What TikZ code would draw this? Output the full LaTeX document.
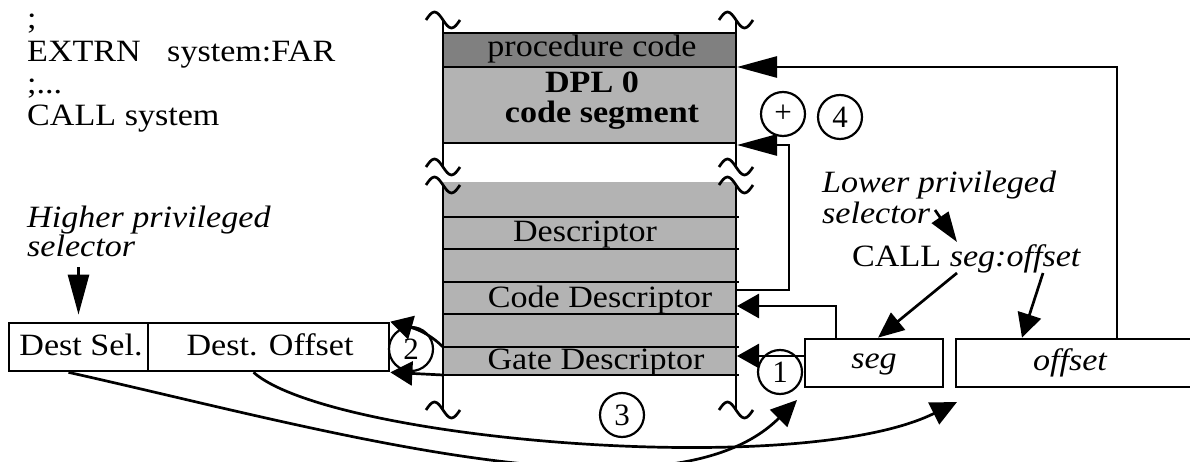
\documentclass[tikz,border=0pt]{standalone}
\usepackage{fontspec}
\usepackage{graphicx}
\setmainfont{Liberation Serif}
\usetikzlibrary{arrows.meta}
\definecolor{darkband}{RGB}{128,128,128}
\definecolor{lightband}{RGB}{179,179,179}
\newcommand\myfs{\fontsize{31}{36}\selectfont}
\newcommand\hsc[1]{\scalebox{1.1}[1]{#1}}
\tikzset{
  lw/.style={line width=2.7pt},
  tx/.style={inner sep=0pt, anchor=base west, font=\myfs},
  txc/.style={inner sep=0pt, anchor=base, font=\myfs},
  bx/.style={draw, line width=2.7pt, inner sep=0pt, rectangle, minimum height=48pt},
  bigtip/.style={-{Triangle[length=40pt,width=21pt]}},
  smtip/.style={-{Triangle[length=22pt,width=24pt]}},
  numc/.style={circle, draw, line width=2.2pt, minimum size=44pt, inner sep=0pt, font=\myfs},
  brk/.pic={\draw[lw] (-17,0) sin (-8.5,-8) cos (0,0) sin (8.5,8) cos (17,0);}
}
\begin{document}
\begin{tikzpicture}[x=1pt,y=-1pt]
\useasboundingbox (0,0) rectangle (1190,462);

% code segment
\fill[darkband] (443,33) rectangle (736,67);
\fill[lightband] (443,67) rectangle (736,143);
\foreach \yy in {33,67,143} \draw[lw] (443,\yy) -- (736,\yy);
\draw[lw] (443,20) -- (443,167);
\draw[lw] (736,20) -- (736,167);
\pic at (443,20) {brk};
\pic at (736,20) {brk};
\pic at (443,167) {brk};
\pic at (736,167) {brk};

% descriptor table
\fill[lightband] (443,182) rectangle (736,375);
\foreach \yy in {217,249,282,314,347,375} \draw[lw] (443,\yy) -- (739,\yy);
\draw[lw] (443,185) -- (443,410);
\draw[lw] (736,185) -- (736,410);
\pic at (443,185) {brk};
\pic at (736,185) {brk};
\pic at (443,410) {brk};
\pic at (736,410) {brk};

% texts
\node[tx] (semi) at (27,29) {\hsc{;}};
\node[tx] (extrn) at (27,62) {\hsc{EXTRN\hspace{24pt}system:FAR}};
\node[tx] (dots) at (27,94) {\hsc{;...}};
\node[tx] (callsys) at (27,126) {\hsc{CALL system}};
\node[tx] (hi1) at (27,228) {\hsc{\itshape Higher privileged}};
\node[tx] (hi2) at (27,256) {\hsc{\itshape selector}};
\node[tx] (lo1) at (822,193) {\hsc{\itshape Lower privileged}};
\node[tx] (lo2) at (822,224) {\hsc{\itshape selector}};
\node[tx] (callseg) at (852,266) {\hsc{CALL \textit{seg:offset}}};

\node[txc] (proc) at (592,57) {\hsc{procedure code}};
\node[txc] (dpl) at (592,93) {\hsc{\bfseries DPL 0}};
\node[txc] (cseg) at (602,123) {\hsc{\bfseries code segment}};
\node[txc] (desc) at (585,242) {\hsc{Descriptor}};
\node[txc] (codedesc) at (600,307) {\hsc{Code Descriptor}};
\node[txc] (gatedesc) at (596,369) {\hsc{Gate Descriptor}};

% boxes
\node[bx, minimum width=139pt] (ds) at (78.5,347) {};
\node[bx, minimum width=241pt] (dof) at (268.5,347) {};
\node[bx, minimum width=138pt] (sg) at (874,363) {};
\node[bx, minimum width=244pt] (of) at (1078,363) {};
\node[txc] (dstxt) at (81,355) {\hsc{Dest Sel.}};
\node[txc] (dotxt) at (270,355) {\hsc{Dest. Offset}};
\node[txc] (segtxt) at (874,368) {\hsc{\itshape seg}};
\node[txc] (offtxt) at (1070,370) {\hsc{\itshape offset}};

% circles
\node[numc] (cplus) at (783,114) {+};
\node[numc] (cfour) at (840,117) {4};
\node[numc] (cone) at (780,372) {1};
\node[numc] (ctwo) at (411,349) {2};
\node[numc] (cthree) at (622,415) {3};

% coordinates
\coordinate (topin) at (737,67);
\coordinate (lpa) at (737,290);
\coordinate (lpb) at (737,145);
\coordinate (cdin) at (737,306);
\coordinate (gdin) at (737,356);
\coordinate (hs) at (78.5,267);
\coordinate (ls) at (935,210);
\coordinate (lt) at (957,242);
\coordinate (sgs) at (957,273);
\coordinate (ofs) at (1043,273);
\coordinate (gl1) at (443,347);
\coordinate (gl2) at (443,375);
\coordinate (endB) at (797,400);
\coordinate (endA) at (957,402);

% connectors
\draw[lw,bigtip] ([xshift=39pt]of.north) |- (topin);
\draw[lw,bigtip] (lpa) -- ++(52,0) |- (lpb);
\draw[lw,smtip] ([xshift=-38pt]sg.north) |- (cdin);
\draw[lw,smtip] (sg.west |- gdin) -- (gdin);
\draw[lw,bigtip] (hs) -- ([yshift=7pt]ds.north);
\draw[lw,-{Triangle[length=30pt,width=20pt]}] (ls) -- (lt);
\draw[lw,-{Triangle[length=26pt,width=22pt]}] (sgs) -- ([xshift=4pt]sg.north);
\draw[lw,-{Triangle[length=24pt,width=24pt]}] (ofs) -- ([xshift=-56pt]of.north);
\draw[lw,smtip] (gl1) .. controls (432,336) and (420,330) .. (dof.north east);
\draw[lw,smtip] (gl2) -- (dof.south east);
\draw[lw,-{Triangle[length=26pt,width=24pt]}] ([xshift=-10pt]ds.south) .. controls (318,428) and (667,530) .. (endB);
\draw[lw,-{Triangle[length=26pt,width=24pt]}] ([xshift=-15pt]dof.south) .. controls (330,440) and (800,480) .. (endA);
\end{tikzpicture}
\end{document}
